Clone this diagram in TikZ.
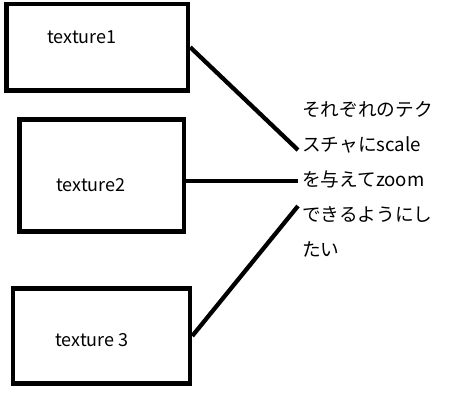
\documentclass[tikz,border=0pt]{standalone}
\usepackage{fontspec}
\setmainfont{Noto Sans CJK JP}
\begin{document}
\begin{tikzpicture}[
	x=0.75pt,
	y=-0.75pt,
	texbox/.style={
		rectangle,
		draw=black,
		line width=3.4pt,
		inner sep=0pt
	},
	texname/.style={
		font=\fontsize{13.5}{16}\selectfont,
		inner sep=0pt
	},
	memo/.style={
		font=\fontsize{14}{26.25}\selectfont,
		align=left,
		anchor=north west,
		inner sep=0pt
	},
	wire/.style={
		line width=3.2pt
	},
]
\useasboundingbox (0,0) rectangle (449,400);

% Boxes
\node[texbox,minimum width=136.1pt,minimum height=64.9pt] (box1) at (97.25,47.25) {};
\node[texbox,minimum width=123.4pt,minimum height=84pt] (box2) at (101.75,175.5) {};
\node[texbox,minimum width=132.75pt,minimum height=71.25pt] (box3) at (101.5,336) {};

% Names
\node[texname] (name1) at (82,37) {texture1};
\node[texname] (name2) at (91,185) {texture2};
\node[texname] (name3) at (92,340) {texture 3};

% Memo
\node[memo] (memo) at (302,101) {それぞれのテク\\スチャにscale\\を与えてzoom\\できるようにし\\たい};

\coordinate (end1) at (298,150);
\coordinate (end2) at (298,181);
\coordinate (end3) at (298,206);

% Connection
\draw[wire] (box1.east) -- (end1);
\draw[wire] (box2.east |- end2) -- (end2);
\draw[wire] (box3.east) -- (end3);

\end{tikzpicture}
\end{document}
